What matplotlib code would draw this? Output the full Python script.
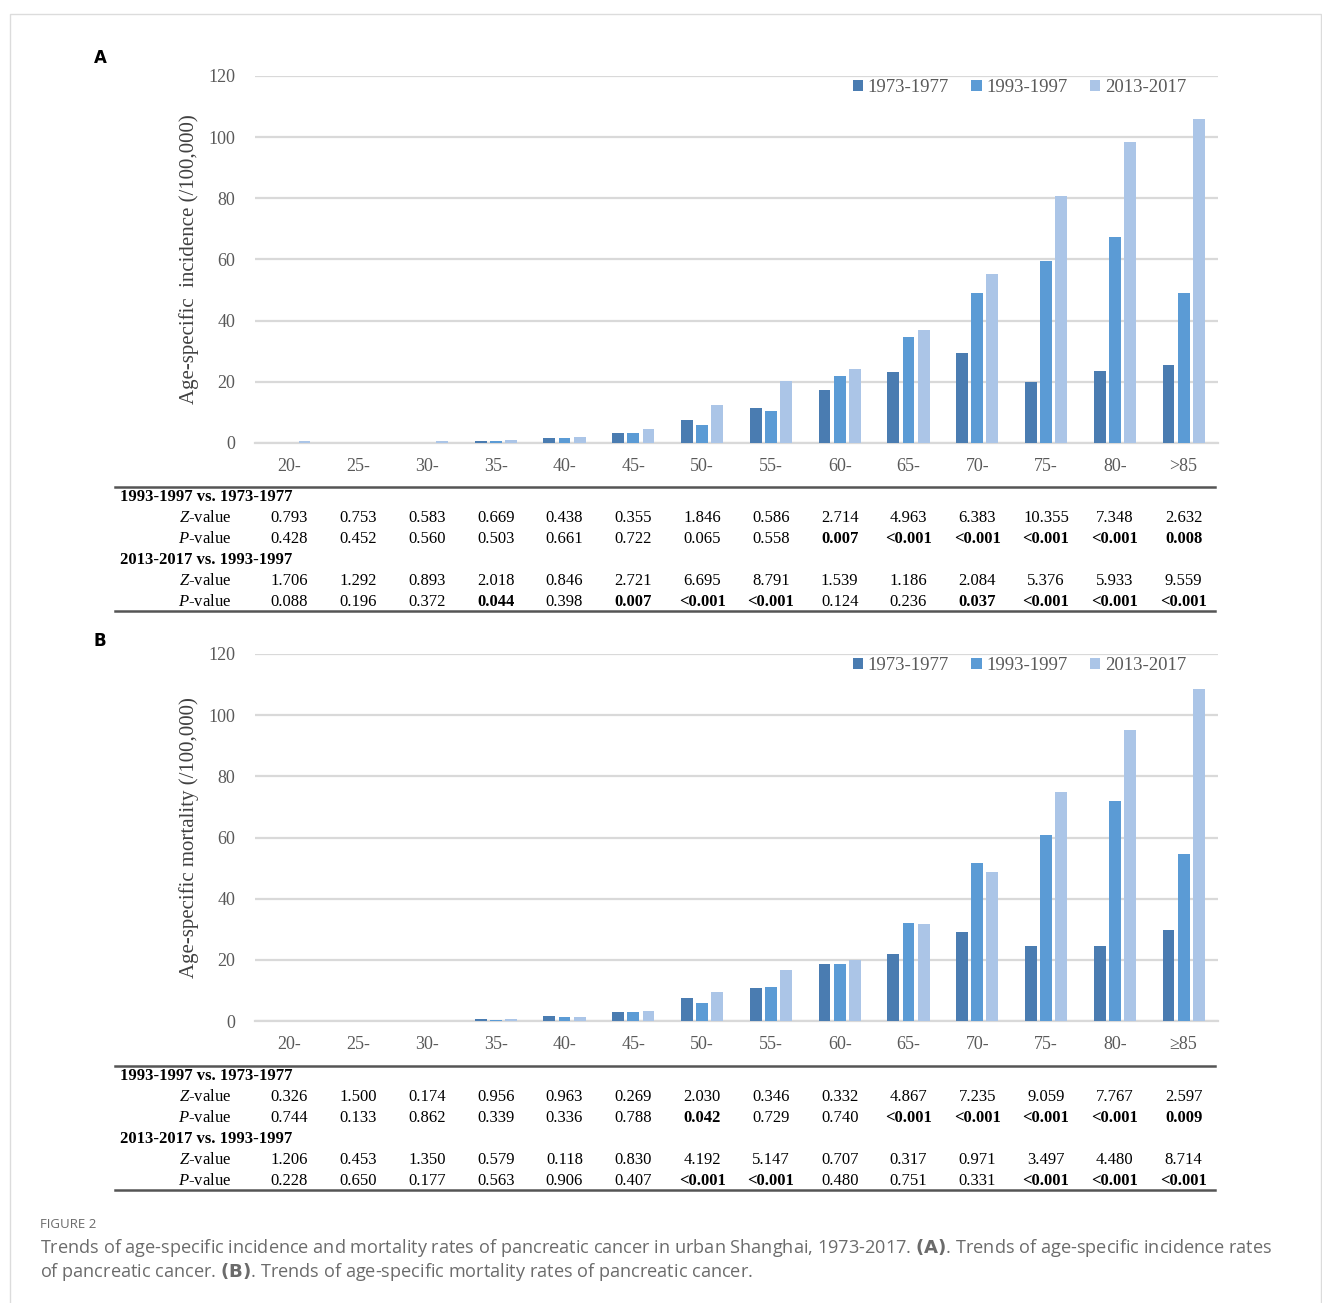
import matplotlib
matplotlib.use("Agg")
import matplotlib.pyplot as plt
import matplotlib.transforms as mtransforms
from matplotlib.lines import Line2D
from matplotlib.patches import Rectangle
import numpy as np

plt.rcParams['font.family'] = 'Liberation Serif'
plt.rcParams['mathtext.fontset'] = 'custom'
plt.rcParams['mathtext.rm'] = 'Liberation Serif'
plt.rcParams['mathtext.it'] = 'Liberation Serif:italic'

# age groups
ages_a = ['20-', '25-', '30-', '35-', '40-', '45-', '50-', '55-', '60-', '65-', '70-', '75-', '80-', '>85']
ages_b = ['20-', '25-', '30-', '35-', '40-', '45-', '50-', '55-', '60-', '65-', '70-', '75-', '80-', '≥85']
periods = ['1973-1977', '1993-1997', '2013-2017']

# incidence per 100,000
inc_1973 = [0.0, 0.0, 0.0, 0.8, 1.7, 3.2, 7.4, 11.4, 17.4, 23.1, 29.4, 19.8, 23.4, 25.5]
inc_1993 = [0.0, 0.0, 0.0, 0.8, 1.7, 3.2, 5.8, 10.3, 21.8, 34.5, 49.2, 59.4, 67.4, 48.9]
inc_2013 = [0.5, 0.1, 0.5, 1.1, 2.1, 4.7, 12.5, 20.4, 24.1, 36.9, 55.3, 80.7, 98.3, 105.9]

# mortality per 100,000
mor_1973 = [0.0, 0.0, 0.0, 0.6, 1.7, 2.8, 7.4, 10.8, 18.5, 21.8, 29.1, 24.5, 24.5, 29.8]
mor_1993 = [0.0, 0.0, 0.0, 0.4, 1.4, 2.8, 5.8, 11.1, 18.8, 32.1, 51.5, 60.9, 71.8, 54.6]
mor_2013 = [0.0, 0.0, 0.0, 0.7, 1.4, 3.2, 9.5, 16.7, 19.8, 31.7, 48.8, 74.9, 95.3, 108.7]

# trend tests, incidence
inc_z1 = ['0.793', '0.753', '0.583', '0.669', '0.438', '0.355', '1.846', '0.586', '2.714', '4.963', '6.383', '10.355', '7.348', '2.632']
inc_p1 = ['0.428', '0.452', '0.560', '0.503', '0.661', '0.722', '0.065', '0.558', '0.007', '<0.001', '<0.001', '<0.001', '<0.001', '0.008']
inc_z2 = ['1.706', '1.292', '0.893', '2.018', '0.846', '2.721', '6.695', '8.791', '1.539', '1.186', '2.084', '5.376', '5.933', '9.559']
inc_p2 = ['0.088', '0.196', '0.372', '0.044', '0.398', '0.007', '<0.001', '<0.001', '0.124', '0.236', '0.037', '<0.001', '<0.001', '<0.001']

# trend tests, mortality
mor_z1 = ['0.326', '1.500', '0.174', '0.956', '0.963', '0.269', '2.030', '0.346', '0.332', '4.867', '7.235', '9.059', '7.767', '2.597']
mor_p1 = ['0.744', '0.133', '0.862', '0.339', '0.336', '0.788', '0.042', '0.729', '0.740', '<0.001', '<0.001', '<0.001', '<0.001', '0.009']
mor_z2 = ['1.206', '0.453', '1.350', '0.579', '0.118', '0.830', '4.192', '5.147', '0.707', '0.317', '0.971', '3.497', '4.480', '8.714']
mor_p2 = ['0.228', '0.650', '0.177', '0.563', '0.906', '0.407', '<0.001', '<0.001', '0.480', '0.751', '0.331', '<0.001', '<0.001', '<0.001']

colors = ['#4a7cb1', '#5b9bd5', '#abc5e7']
grid_c = '#d9d9d9'
tick_c = '#595959'

W, H = 1322, 1303
fig = plt.figure(figsize=(W / 100, H / 100), dpi=100)


def fx(px):
    return px / W


def fy(py):
    return 1 - py / H


# thin frame around the figure
fig.add_artist(Rectangle((fx(10), -0.01), fx(1321 - 10), fy(14) + 0.01,
                         transform=fig.transFigure, fill=False,
                         edgecolor='#dcdcdc', lw=1))


def bar_panel(top, bottom, ages, series, ylabel, letter, letter_y):
    ax = fig.add_axes([fx(255), fy(bottom), fx(1218 - 255), (bottom - top) / H])
    x = np.arange(len(ages))
    w = 0.172
    step = 0.22
    for k, (vals, c, lab) in enumerate(zip(series, colors, periods)):
        ax.bar(x + (k - 1) * step, vals, width=w, color=c, label=lab, zorder=3)
    ax.set_xlim(-0.5, len(ages) - 0.5)
    ax.set_ylim(0, 120)
    ax.set_yticks(np.arange(0, 121, 20))
    ax.set_xticks(x)
    ax.set_xticklabels(ages)
    ax.yaxis.grid(True, color=grid_c, lw=1.6, zorder=0)
    for s in ['left', 'right', 'top']:
        ax.spines[s].set_visible(False)
    ax.spines['bottom'].set_color(grid_c)
    ax.spines['bottom'].set_linewidth(1.6)
    ax.tick_params(axis='both', length=0, labelsize=13, colors=tick_c)
    ax.tick_params(axis='y', pad=14)
    ax.tick_params(axis='x', pad=11)
    ax.set_ylabel(ylabel, fontsize=15, color='#404040')
    ax.yaxis.set_label_coords(-0.058, 0.5)
    leg = ax.legend(loc='center right', bbox_to_anchor=(0.975, 0.968), ncol=3,
                    frameon=False, fontsize=13.5, handlelength=0.55, handleheight=0.55,
                    handletextpad=0.25, columnspacing=1.2, borderaxespad=0)
    for t in leg.get_texts():
        t.set_color(tick_c)
    fig.text(fx(100), fy(letter_y), letter, fontsize=12, fontweight='bold',
             family='DejaVu Sans', va='center', ha='center')
    return ax


def stat_table(ax, y0, rows):
    # rows: (header, z-values, p-values) for each comparison
    tr = mtransforms.blended_transform_factory(ax.transData, fig.transFigure)
    fig.add_artist(Line2D([fx(115), fx(1215)], [fy(y0), fy(y0)], color='#555555', lw=1.8))
    y = y0 + 10
    fs = 12
    for header, zs, ps in rows:
        fig.text(fx(120), fy(y), header, fontsize=fs, fontweight='bold', va='center', ha='left')
        y += 21
        fig.text(fx(231), fy(y), r'$Z$-value', fontsize=fs, va='center', ha='right')
        for i, z in enumerate(zs):
            ax.text(i, fy(y), z, transform=tr, fontsize=fs, va='center', ha='center')
        y += 21
        fig.text(fx(231), fy(y), r'$P$-value', fontsize=fs, va='center', ha='right')
        for i, p in enumerate(ps):
            sig = p.startswith('<') or float(p) < 0.05
            ax.text(i, fy(y), p, transform=tr, fontsize=fs, va='center', ha='center',
                    fontweight='bold' if sig else 'normal')
        y += 21
    yb = y - 12
    fig.add_artist(Line2D([fx(115), fx(1215)], [fy(yb), fy(yb)], color='#555555', lw=1.8))


ax_a = bar_panel(76, 443, ages_a, [inc_1973, inc_1993, inc_2013],
                 'Age-specific  incidence (/100,000)', 'A', 58)
stat_table(ax_a, 487, [('1993-1997 vs. 1973-1977', inc_z1, inc_p1),
                       ('2013-2017 vs. 1993-1997', inc_z2, inc_p2)])

ax_b = bar_panel(654, 1021, ages_b, [mor_1973, mor_1993, mor_2013],
                 'Age-specific mortality (/100,000)', 'B', 641)
stat_table(ax_b, 1066, [('1993-1997 vs. 1973-1977', mor_z1, mor_p1),
                        ('2013-2017 vs. 1993-1997', mor_z2, mor_p2)])

# caption
cap_c = '#6b6b6b'
fig.text(fx(40), fy(1224), 'FIGURE 2', fontsize=9.5, family='Open Sans', color=cap_c, va='center')
fig.text(fx(40), fy(1248),
         'Trends of age-specific incidence and mortality rates of pancreatic cancer in urban Shanghai, 1973-2017. '
         r'$\bf{(A)}$. Trends of age-specific incidence rates',
         fontsize=13.1, family='Open Sans', color=cap_c, va='center')
fig.text(fx(40), fy(1272),
         r'of pancreatic cancer. $\bf{(B)}$. Trends of age-specific mortality rates of pancreatic cancer.',
         fontsize=13.1, family='Open Sans', color=cap_c, va='center')

fig.savefig('out.png', dpi=100)
